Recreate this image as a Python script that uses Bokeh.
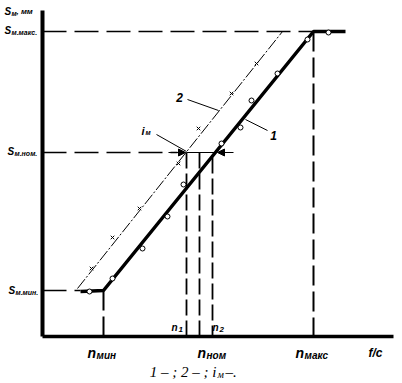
from bokeh.plotting import figure
from bokeh.models import Range1d, Arrow, NormalHead
from bokeh.core.properties import value
from bokeh.embed import file_html
from bokeh.resources import INLINE

# ---- data (schematic units) ----
n_min, n1, n_nom, n2, n_max = 6.1, 14.4, 15.7, 17.0, 27.1
S_min, S_nom, S_max = 4.6, 18.4, 30.5

line1_x = [3.8, n_min, n_max, 30.3]
line1_y = [4.5, S_min, S_max, S_max]
line2_x = [3.5, 24.0]
line2_y = [4.8, S_max]

circ_x = [4.7, 7.0, 10.0, 12.5, 14.1, 17.9, 19.8, 20.9, 23.5, 26.5, 28.6]
circ_y = [4.5, 5.8, 8.8, 12.0, 15.2, 19.3, 20.9, 23.6, 26.3, 29.7, 30.4]
cross_x = [4.9, 7.0, 9.7, 13.6, 15.6, 18.9, 21.4]
cross_y = [6.8, 9.9, 12.8, 17.3, 20.8, 24.3, 27.3]

x_axis_end = 35.1
y_axis_end = 32.6

SANS = value("Liberation Sans")
SERIF = value("Liberation Serif")


def px(xp):
    return (xp - 42) / 10.0


def py(yp):
    return (336 - yp) / 10.0


W, H = 402, 383
p = figure(width=W, height=H, output_backend="svg", toolbar_location=None,
           x_range=Range1d(px(0), px(W)), y_range=Range1d(py(H), py(0)),
           min_border=0, outline_line_color=None)
p.axis.visible = False
p.grid.visible = False
p.background_fill_color = "white"
p.border_fill_color = "white"

# axes
p.line([0, 0], [0, y_axis_end], line_width=4, color="black")
p.line([0, x_axis_end], [0, 0], line_width=3.5, color="black")

# dashed horizontal reference levels
p.segment(x0=[0, 0, 0], y0=[S_max, S_nom, S_min],
          x1=[n_max, px(177), line1_x[0]], y1=[S_max, S_nom, S_min],
          line_width=1.5, color="black", line_dash="24 8")
# dashed verticals
p.segment(x0=[n_min, n_max], y0=[S_min, S_max], x1=[n_min, n_max], y1=[0, 0],
          line_width=2, color="black", line_dash="20 6")
p.segment(x0=[n1, n_nom, n2], y0=[S_nom, S_nom, S_nom - 0.5],
          x1=[n1, n_nom, n2], y1=[0, 0, 0],
          line_width=1.8, color="black", line_dash="16 5")

# horizontal bracket at S_nom
p.line([n1, 17.3], [S_nom, S_nom], line_width=1, color="black")

# line 2 (thin dash-dot)
p.line(line2_x, line2_y, line_width=1, color="black", line_dash="12 2 2 2")
# line 1 (thick)
p.line(line1_x, line1_y, line_width=3.5, color="black")

p.scatter(cross_x, cross_y, marker="x", size=5, line_width=1, color="black")
p.scatter(circ_x, circ_y, marker="circle", size=5, line_width=1,
          line_color="black", fill_color="white")

# arrows
p.add_layout(Arrow(end=NormalHead(size=7, fill_color="black", line_color="black"),
                   x_start=px(168), y_start=S_nom, x_end=px(185), y_end=S_nom,
                   line_width=1, line_color="black"))
p.add_layout(Arrow(end=NormalHead(size=7, fill_color="black", line_color="black"),
                   x_start=px(233), y_start=S_nom, x_end=px(217), y_end=S_nom,
                   line_width=1, line_color="black"))

# leader lines
p.segment(x0=[px(156), px(187), px(245)], y0=[py(134), py(99), py(119)],
          x1=[px(186), px(218), px(267)], y1=[py(151), py(110), py(130)],
          line_width=1, color="black")


def txt(x, y, s, size, font=SANS, style="bold italic", align="left", baseline="middle"):
    p.text(x=[x], y=[y], text=[s], text_font=font, text_font_size=f"{size}px",
           text_font_style=style, text_align=align, text_baseline=baseline,
           text_color="black")


# y-axis labels
txt(px(4), py(11), "S", 10)
txt(px(11), py(13), "м", 7)
txt(px(16), py(11), ", мм", 8)
for xs, yy, sub in [(4, 30, "м.макс."), (7, 151, "м.ном."), (8, 290, "м.мин.")]:
    txt(px(xs), py(yy), "S", 10)
    txt(px(xs + 7), py(yy + 1.5), sub, 7)

# x-axis labels
for xl, sub in [(87, "мин"), (197, "ном"), (295, "макс")]:
    txt(px(xl), py(352), "n", 14)
    txt(px(xl + 9), py(355), sub, 10)
txt(px(368), py(352), "f/c", 12)
txt(px(171), py(327), "n", 10)
txt(px(178), py(329), "1", 8)
txt(px(212), py(327), "n", 10)
txt(px(219), py(329), "2", 8)

# curve labels
txt(px(179), py(97), "2", 12, align="center")
txt(px(273), py(135), "1", 12, align="center")
txt(px(141), py(130), "i", 11)
txt(px(145), py(132), "м", 7)

# caption
txt(px(216), py(371), "1 – ; 2 – ; i", 15, font=SERIF, style="italic", align="right")
txt(px(217), py(374), "м", 10, font=SERIF, style="italic")
txt(px(225), py(371), " –.", 15, font=SERIF, style="italic")

open("out.html", "w").write(file_html(p, INLINE))
